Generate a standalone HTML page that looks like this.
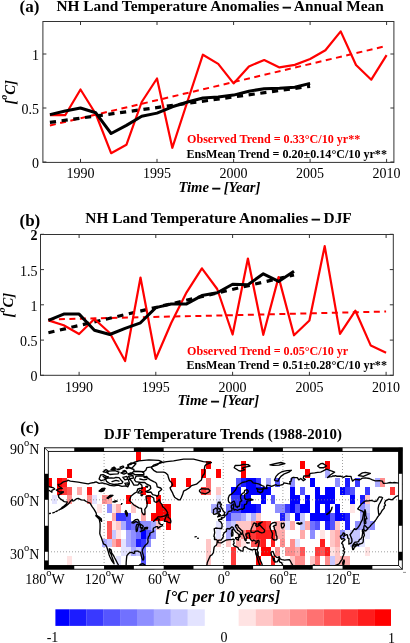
<!DOCTYPE html>
<html><head><meta charset="utf-8"><style>
html,body{margin:0;padding:0;background:#fff;width:410px;height:643px;overflow:hidden}
svg{display:block;font-family:"Liberation Serif", serif;will-change:transform}
</style></head><body>
<svg width="410" height="643" viewBox="0 0 410 643">
<rect width="410" height="643" fill="#fff"/>
<polyline points="49.9,125.5 386.6,45.9" fill="none" stroke="#ff0000" stroke-width="2" stroke-linecap="butt" stroke-linejoin="miter" stroke-dasharray="6,4.5"/>
<polyline points="49.9,122.4 310.1,86.3" fill="none" stroke="#000" stroke-width="3.2" stroke-linecap="butt" stroke-linejoin="miter" stroke-dasharray="6.2,5.6"/>
<polyline points="49.9,115.2 65.2,115.2 80.5,89.5 95.8,114.0 111.1,153.2 126.4,144.8 141.7,102.0 157.0,78.5 172.3,147.8 187.6,101.0 202.9,54.7 218.2,63.9 233.6,83.4 248.9,66.4 264.2,60.0 279.5,67.4 294.8,64.9 310.1,59.0 325.4,50.3 340.7,31.4 356.0,65.0 371.3,79.7 386.6,55.1" fill="none" stroke="#ff0000" stroke-width="2.2" stroke-linecap="butt" stroke-linejoin="round"/>
<polyline points="49.9,114.6 65.2,111.0 80.5,108.0 95.8,112.8 111.1,133.5 126.4,125.4 141.7,116.2 157.0,113.1 172.3,106.8 187.6,102.0 202.9,98.0 218.2,97.0 233.6,95.1 248.9,91.2 264.2,88.7 279.5,88.3 294.8,87.3 310.1,83.4" fill="none" stroke="#000" stroke-width="3" stroke-linecap="butt" stroke-linejoin="round"/>
<rect x="42.9" y="21.5" width="351.0" height="140.9" fill="none" stroke="#333" stroke-width="1"/>
<line x1="80.5" y1="162.4" x2="80.5" y2="158.9" stroke="#333" stroke-width="1"/>
<line x1="80.5" y1="21.5" x2="80.5" y2="25.0" stroke="#333" stroke-width="1"/>
<text x="80.5" y="177.5" font-size="14" font-weight="normal" font-style="normal" text-anchor="middle" fill="#000">1990</text>
<line x1="157.0" y1="162.4" x2="157.0" y2="158.9" stroke="#333" stroke-width="1"/>
<line x1="157.0" y1="21.5" x2="157.0" y2="25.0" stroke="#333" stroke-width="1"/>
<text x="157.0" y="177.5" font-size="14" font-weight="normal" font-style="normal" text-anchor="middle" fill="#000">1995</text>
<line x1="233.6" y1="162.4" x2="233.6" y2="158.9" stroke="#333" stroke-width="1"/>
<line x1="233.6" y1="21.5" x2="233.6" y2="25.0" stroke="#333" stroke-width="1"/>
<text x="233.6" y="177.5" font-size="14" font-weight="normal" font-style="normal" text-anchor="middle" fill="#000">2000</text>
<line x1="310.1" y1="162.4" x2="310.1" y2="158.9" stroke="#333" stroke-width="1"/>
<line x1="310.1" y1="21.5" x2="310.1" y2="25.0" stroke="#333" stroke-width="1"/>
<text x="310.1" y="177.5" font-size="14" font-weight="normal" font-style="normal" text-anchor="middle" fill="#000">2005</text>
<line x1="386.6" y1="162.4" x2="386.6" y2="158.9" stroke="#333" stroke-width="1"/>
<line x1="386.6" y1="21.5" x2="386.6" y2="25.0" stroke="#333" stroke-width="1"/>
<text x="386.6" y="177.5" font-size="14" font-weight="normal" font-style="normal" text-anchor="middle" fill="#000">2010</text>
<line x1="42.9" y1="162.0" x2="46.4" y2="162.0" stroke="#333" stroke-width="1"/>
<line x1="393.9" y1="162.0" x2="390.4" y2="162.0" stroke="#333" stroke-width="1"/>
<text x="39.1" y="168.0" font-size="14" font-weight="normal" font-style="normal" text-anchor="end" fill="#000">0</text>
<line x1="42.9" y1="108.0" x2="46.4" y2="108.0" stroke="#333" stroke-width="1"/>
<line x1="393.9" y1="108.0" x2="390.4" y2="108.0" stroke="#333" stroke-width="1"/>
<text x="39.1" y="114.0" font-size="14" font-weight="normal" font-style="normal" text-anchor="end" fill="#000">0.5</text>
<line x1="42.9" y1="54.0" x2="46.4" y2="54.0" stroke="#333" stroke-width="1"/>
<line x1="393.9" y1="54.0" x2="390.4" y2="54.0" stroke="#333" stroke-width="1"/>
<text x="39.1" y="60.0" font-size="14" font-weight="normal" font-style="normal" text-anchor="end" fill="#000">1</text>
<text x="56.4" y="10.8" font-size="15.37" font-weight="bold" font-style="normal" text-anchor="start" fill="#000">NH Land Temperature Anomalies <tspan stroke="#000" stroke-width="0.55">–</tspan> Annual Mean</text>
<text x="19.5" y="12" font-size="17" font-weight="bold" font-style="normal" text-anchor="start" fill="#000">(a)</text>
<text x="187" y="142.8" font-size="12.1" font-weight="bold" font-style="normal" text-anchor="start" fill="#ff0000">Observed Trend = 0.33°C/10 yr**</text>
<text x="186.5" y="157.5" font-size="12.1" font-weight="bold" font-style="normal" text-anchor="start" fill="#000">EnsMean Trend = 0.20±0.14°C/10 yr**</text>
<text x="219.5" y="192" font-size="14.7" font-weight="bold" font-style="italic" text-anchor="middle" fill="#000">Time <tspan stroke="#000" stroke-width="0.55">–</tspan> [Year]</text>
<text x="0" y="0" font-size="14.7" font-weight="bold" font-style="italic" text-anchor="middle" transform="translate(14.6,92.3) rotate(-90)">[<tspan font-size="10" dy="-7.5">o</tspan><tspan dy="7.5">C]</tspan></text>
<polyline points="48.4,319.5 386.1,311.5" fill="none" stroke="#ff0000" stroke-width="2" stroke-linecap="butt" stroke-linejoin="miter" stroke-dasharray="6,4.5"/>
<polyline points="48.4,332.7 294.0,274.9" fill="none" stroke="#000" stroke-width="3.2" stroke-linecap="butt" stroke-linejoin="miter" stroke-dasharray="6.2,5.6"/>
<polyline points="48.4,320.4 63.7,325.3 79.1,334.0 94.4,319.0 109.8,333.0 125.1,361.0 140.5,277.5 155.8,358.8 171.2,323.0 186.6,292.3 201.9,268.3 217.2,289.0 232.6,334.5 247.9,258.5 263.3,334.8 278.6,277.1 294.0,335.3 309.4,320.5 324.7,246.1 340.0,333.9 355.4,310.7 370.8,345.6 386.1,352.7" fill="none" stroke="#ff0000" stroke-width="2.2" stroke-linecap="butt" stroke-linejoin="round"/>
<polyline points="48.4,320.4 63.7,314.1 79.1,314.1 94.4,330.3 109.8,334.5 125.1,328.3 140.5,322.8 155.8,307.6 171.2,304.0 186.6,303.9 201.9,295.6 217.2,292.8 232.6,284.3 247.9,284.7 263.3,273.8 278.6,281.4 294.0,271.2" fill="none" stroke="#000" stroke-width="3" stroke-linecap="butt" stroke-linejoin="round"/>
<rect x="40.5" y="234.5" width="352.8" height="140.8" fill="none" stroke="#333" stroke-width="1"/>
<line x1="79.1" y1="375.3" x2="79.1" y2="371.8" stroke="#333" stroke-width="1"/>
<line x1="79.1" y1="234.5" x2="79.1" y2="238.0" stroke="#333" stroke-width="1"/>
<text x="79.1" y="391.5" font-size="14" font-weight="normal" font-style="normal" text-anchor="middle" fill="#000">1990</text>
<line x1="155.8" y1="375.3" x2="155.8" y2="371.8" stroke="#333" stroke-width="1"/>
<line x1="155.8" y1="234.5" x2="155.8" y2="238.0" stroke="#333" stroke-width="1"/>
<text x="155.8" y="391.5" font-size="14" font-weight="normal" font-style="normal" text-anchor="middle" fill="#000">1995</text>
<line x1="232.6" y1="375.3" x2="232.6" y2="371.8" stroke="#333" stroke-width="1"/>
<line x1="232.6" y1="234.5" x2="232.6" y2="238.0" stroke="#333" stroke-width="1"/>
<text x="232.6" y="391.5" font-size="14" font-weight="normal" font-style="normal" text-anchor="middle" fill="#000">2000</text>
<line x1="309.4" y1="375.3" x2="309.4" y2="371.8" stroke="#333" stroke-width="1"/>
<line x1="309.4" y1="234.5" x2="309.4" y2="238.0" stroke="#333" stroke-width="1"/>
<text x="309.4" y="391.5" font-size="14" font-weight="normal" font-style="normal" text-anchor="middle" fill="#000">2005</text>
<line x1="386.1" y1="375.3" x2="386.1" y2="371.8" stroke="#333" stroke-width="1"/>
<line x1="386.1" y1="234.5" x2="386.1" y2="238.0" stroke="#333" stroke-width="1"/>
<text x="386.1" y="391.5" font-size="14" font-weight="normal" font-style="normal" text-anchor="middle" fill="#000">2010</text>
<line x1="40.5" y1="375.3" x2="44.0" y2="375.3" stroke="#333" stroke-width="1"/>
<line x1="393.3" y1="375.3" x2="389.8" y2="375.3" stroke="#333" stroke-width="1"/>
<text x="37.5" y="381.3" font-size="14" font-weight="normal" font-style="normal" text-anchor="end" fill="#000">0</text>
<line x1="40.5" y1="340.1" x2="44.0" y2="340.1" stroke="#333" stroke-width="1"/>
<line x1="393.3" y1="340.1" x2="389.8" y2="340.1" stroke="#333" stroke-width="1"/>
<text x="37.5" y="346.1" font-size="14" font-weight="normal" font-style="normal" text-anchor="end" fill="#000">0.5</text>
<line x1="40.5" y1="304.8" x2="44.0" y2="304.8" stroke="#333" stroke-width="1"/>
<line x1="393.3" y1="304.8" x2="389.8" y2="304.8" stroke="#333" stroke-width="1"/>
<text x="37.5" y="310.8" font-size="14" font-weight="normal" font-style="normal" text-anchor="end" fill="#000">1</text>
<line x1="40.5" y1="269.6" x2="44.0" y2="269.6" stroke="#333" stroke-width="1"/>
<line x1="393.3" y1="269.6" x2="389.8" y2="269.6" stroke="#333" stroke-width="1"/>
<text x="37.5" y="275.6" font-size="14" font-weight="normal" font-style="normal" text-anchor="end" fill="#000">1.5</text>
<line x1="40.5" y1="234.3" x2="44.0" y2="234.3" stroke="#333" stroke-width="1"/>
<line x1="393.3" y1="234.3" x2="389.8" y2="234.3" stroke="#333" stroke-width="1"/>
<text x="37.5" y="240.3" font-size="14" font-weight="bold" font-style="normal" text-anchor="end" fill="#000">2</text>
<text x="85.3" y="223.1" font-size="15.37" font-weight="bold" font-style="normal" text-anchor="start" fill="#000">NH Land Temperature Anomalies <tspan stroke="#000" stroke-width="0.55">–</tspan> DJF</text>
<text x="19.5" y="226" font-size="17" font-weight="bold" font-style="normal" text-anchor="start" fill="#000">(b)</text>
<text x="187" y="354.8" font-size="12.1" font-weight="bold" font-style="normal" text-anchor="start" fill="#ff0000">Observed Trend = 0.05°C/10 yr</text>
<text x="186.5" y="369" font-size="12.1" font-weight="bold" font-style="normal" text-anchor="start" fill="#000">EnsMean Trend = 0.51±0.28°C/10 yr**</text>
<text x="218.3" y="405" font-size="14.7" font-weight="bold" font-style="italic" text-anchor="middle" fill="#000">Time <tspan stroke="#000" stroke-width="0.55">–</tspan> [Year]</text>
<text x="0" y="0" font-size="14.7" font-weight="bold" font-style="italic" text-anchor="middle" transform="translate(12.6,305.2) rotate(-90)">[<tspan font-size="10" dy="-7.5">o</tspan><tspan dy="7.5">C]</tspan></text>
<clipPath id="mc"><rect x="44.5" y="447.8" width="357.8" height="121.4"/></clipPath>
<g shape-rendering="crispEdges" clip-path="url(#mc)">
<rect x="136.35" y="443.47" width="4.97" height="8.66" fill="rgb(255,0,0)"/>
<rect x="136.35" y="452.13" width="4.97" height="8.66" fill="rgb(255,0,0)"/>
<rect x="66.79" y="469.46" width="4.97" height="8.66" fill="rgb(255,0,0)"/>
<rect x="46.92" y="478.12" width="4.97" height="8.66" fill="rgb(255,0,0)"/>
<rect x="56.86" y="478.12" width="4.97" height="8.66" fill="rgb(255,0,0)"/>
<rect x="61.82" y="478.12" width="4.97" height="8.66" fill="rgb(255,28,28)"/>
<rect x="56.86" y="486.79" width="4.97" height="8.66" fill="rgb(255,0,0)"/>
<rect x="61.82" y="486.79" width="4.97" height="8.66" fill="rgb(255,57,57)"/>
<rect x="66.79" y="486.79" width="4.97" height="8.66" fill="rgb(255,85,85)"/>
<rect x="76.73" y="486.79" width="4.97" height="8.66" fill="rgb(255,170,170)"/>
<rect x="86.67" y="486.79" width="4.97" height="8.66" fill="rgb(255,28,28)"/>
<rect x="141.32" y="486.79" width="4.97" height="8.66" fill="rgb(255,0,0)"/>
<rect x="51.89" y="495.45" width="4.97" height="8.66" fill="rgb(227,227,255)"/>
<rect x="66.79" y="495.45" width="4.97" height="8.66" fill="rgb(255,142,142)"/>
<rect x="86.67" y="495.45" width="4.97" height="8.66" fill="rgb(255,142,142)"/>
<rect x="91.63" y="495.45" width="4.97" height="8.66" fill="rgb(227,227,255)"/>
<rect x="101.57" y="495.45" width="4.97" height="8.66" fill="rgb(255,142,142)"/>
<rect x="106.54" y="495.45" width="4.97" height="8.66" fill="rgb(255,170,170)"/>
<rect x="126.41" y="495.45" width="4.97" height="8.66" fill="rgb(255,0,0)"/>
<rect x="146.29" y="495.45" width="4.97" height="8.66" fill="rgb(255,0,0)"/>
<rect x="156.23" y="495.45" width="4.97" height="8.66" fill="rgb(255,0,0)"/>
<rect x="96.60" y="504.11" width="4.97" height="8.66" fill="rgb(255,227,227)"/>
<rect x="106.54" y="504.11" width="4.97" height="8.66" fill="rgb(142,142,255)"/>
<rect x="111.51" y="504.11" width="4.97" height="8.66" fill="rgb(255,227,227)"/>
<rect x="116.48" y="504.11" width="4.97" height="8.66" fill="rgb(255,170,170)"/>
<rect x="131.38" y="504.11" width="4.97" height="8.66" fill="rgb(255,198,198)"/>
<rect x="156.23" y="504.11" width="4.97" height="8.66" fill="rgb(255,0,0)"/>
<rect x="111.51" y="512.78" width="4.97" height="8.66" fill="rgb(255,170,170)"/>
<rect x="116.48" y="512.78" width="4.97" height="8.66" fill="rgb(57,57,255)"/>
<rect x="121.45" y="512.78" width="4.97" height="8.66" fill="rgb(57,57,255)"/>
<rect x="126.41" y="512.78" width="4.97" height="8.66" fill="rgb(85,85,255)"/>
<rect x="141.32" y="512.78" width="4.97" height="8.66" fill="rgb(255,170,170)"/>
<rect x="151.26" y="512.78" width="4.97" height="8.66" fill="rgb(255,0,0)"/>
<rect x="156.23" y="512.78" width="4.97" height="8.66" fill="rgb(255,0,0)"/>
<rect x="106.54" y="521.44" width="4.97" height="8.66" fill="rgb(255,85,85)"/>
<rect x="111.51" y="521.44" width="4.97" height="8.66" fill="rgb(255,227,227)"/>
<rect x="116.48" y="521.44" width="4.97" height="8.66" fill="rgb(255,198,198)"/>
<rect x="121.45" y="521.44" width="4.97" height="8.66" fill="rgb(170,170,255)"/>
<rect x="126.41" y="521.44" width="4.97" height="8.66" fill="rgb(85,85,255)"/>
<rect x="131.38" y="521.44" width="4.97" height="8.66" fill="rgb(113,113,255)"/>
<rect x="136.35" y="521.44" width="4.97" height="8.66" fill="rgb(113,113,255)"/>
<rect x="141.32" y="521.44" width="4.97" height="8.66" fill="rgb(142,142,255)"/>
<rect x="146.29" y="521.44" width="4.97" height="8.66" fill="rgb(142,142,255)"/>
<rect x="156.23" y="521.44" width="4.97" height="8.66" fill="rgb(255,198,198)"/>
<rect x="106.54" y="530.10" width="4.97" height="8.66" fill="rgb(255,85,85)"/>
<rect x="111.51" y="530.10" width="4.97" height="8.66" fill="rgb(198,198,255)"/>
<rect x="116.48" y="530.10" width="4.97" height="8.66" fill="rgb(255,227,227)"/>
<rect x="126.41" y="530.10" width="4.97" height="8.66" fill="rgb(170,170,255)"/>
<rect x="131.38" y="530.10" width="4.97" height="8.66" fill="rgb(142,142,255)"/>
<rect x="136.35" y="530.10" width="4.97" height="8.66" fill="rgb(113,113,255)"/>
<rect x="141.32" y="530.10" width="4.97" height="8.66" fill="rgb(0,0,255)"/>
<rect x="146.29" y="530.10" width="4.97" height="8.66" fill="rgb(85,85,255)"/>
<rect x="151.26" y="530.10" width="4.97" height="8.66" fill="rgb(142,142,255)"/>
<rect x="101.57" y="538.77" width="4.97" height="8.66" fill="rgb(170,170,255)"/>
<rect x="106.54" y="538.77" width="4.97" height="8.66" fill="rgb(198,198,255)"/>
<rect x="111.51" y="538.77" width="4.97" height="8.66" fill="rgb(255,170,170)"/>
<rect x="116.48" y="538.77" width="4.97" height="8.66" fill="rgb(255,113,113)"/>
<rect x="121.45" y="538.77" width="4.97" height="8.66" fill="rgb(227,227,255)"/>
<rect x="126.41" y="538.77" width="4.97" height="8.66" fill="rgb(170,170,255)"/>
<rect x="131.38" y="538.77" width="4.97" height="8.66" fill="rgb(142,142,255)"/>
<rect x="136.35" y="538.77" width="4.97" height="8.66" fill="rgb(28,28,255)"/>
<rect x="141.32" y="538.77" width="4.97" height="8.66" fill="rgb(57,57,255)"/>
<rect x="146.29" y="538.77" width="4.97" height="8.66" fill="rgb(142,142,255)"/>
<rect x="121.45" y="547.43" width="4.97" height="8.66" fill="rgb(227,227,255)"/>
<rect x="126.41" y="547.43" width="4.97" height="8.66" fill="rgb(227,227,255)"/>
<rect x="131.38" y="547.43" width="4.97" height="8.66" fill="rgb(170,170,255)"/>
<rect x="141.32" y="547.43" width="4.97" height="8.66" fill="rgb(113,113,255)"/>
<rect x="66.79" y="556.09" width="4.97" height="8.66" fill="rgb(255,227,227)"/>
<rect x="116.48" y="556.09" width="4.97" height="8.66" fill="rgb(227,227,255)"/>
<rect x="141.32" y="556.09" width="4.97" height="8.66" fill="rgb(85,85,255)"/>
<rect x="205.91" y="460.80" width="4.97" height="8.66" fill="rgb(255,0,0)"/>
<rect x="200.94" y="469.46" width="4.97" height="8.66" fill="rgb(255,0,0)"/>
<rect x="171.13" y="478.12" width="4.97" height="8.66" fill="rgb(255,0,0)"/>
<rect x="186.04" y="478.12" width="4.97" height="8.66" fill="rgb(255,0,0)"/>
<rect x="205.91" y="478.12" width="4.97" height="8.66" fill="rgb(255,113,113)"/>
<rect x="200.94" y="486.79" width="4.97" height="8.66" fill="rgb(255,57,57)"/>
<rect x="205.91" y="486.79" width="4.97" height="8.66" fill="rgb(255,113,113)"/>
<rect x="161.19" y="504.11" width="4.97" height="8.66" fill="rgb(255,0,0)"/>
<rect x="166.16" y="504.11" width="4.97" height="8.66" fill="rgb(255,0,0)"/>
<rect x="210.88" y="504.11" width="4.97" height="8.66" fill="rgb(170,170,255)"/>
<rect x="161.19" y="512.78" width="4.97" height="8.66" fill="rgb(255,0,0)"/>
<rect x="166.16" y="512.78" width="4.97" height="8.66" fill="rgb(255,0,0)"/>
<rect x="166.16" y="521.44" width="4.97" height="8.66" fill="rgb(255,0,0)"/>
<rect x="151.26" y="521.44" width="4.97" height="8.66" fill="rgb(170,170,255)"/>
<rect x="205.91" y="538.77" width="4.97" height="8.66" fill="rgb(255,198,198)"/>
<rect x="205.91" y="547.43" width="4.97" height="8.66" fill="rgb(255,198,198)"/>
<rect x="205.91" y="556.09" width="4.97" height="8.66" fill="rgb(255,198,198)"/>
<rect x="240.69" y="460.80" width="4.97" height="8.66" fill="rgb(255,0,0)"/>
<rect x="215.85" y="469.46" width="4.97" height="8.66" fill="rgb(255,0,0)"/>
<rect x="240.69" y="469.46" width="4.97" height="8.66" fill="rgb(255,0,0)"/>
<rect x="235.72" y="478.12" width="4.97" height="8.66" fill="rgb(85,85,255)"/>
<rect x="240.69" y="478.12" width="4.97" height="8.66" fill="rgb(28,28,255)"/>
<rect x="245.66" y="478.12" width="4.97" height="8.66" fill="rgb(0,0,255)"/>
<rect x="250.63" y="478.12" width="4.97" height="8.66" fill="rgb(0,0,255)"/>
<rect x="255.60" y="478.12" width="4.97" height="8.66" fill="rgb(57,57,255)"/>
<rect x="265.53" y="478.12" width="4.97" height="8.66" fill="rgb(170,170,255)"/>
<rect x="275.47" y="478.12" width="4.97" height="8.66" fill="rgb(85,85,255)"/>
<rect x="215.85" y="486.79" width="4.97" height="8.66" fill="rgb(255,198,198)"/>
<rect x="230.75" y="486.79" width="4.97" height="8.66" fill="rgb(0,0,255)"/>
<rect x="235.72" y="486.79" width="4.97" height="8.66" fill="rgb(0,0,255)"/>
<rect x="245.66" y="486.79" width="4.97" height="8.66" fill="rgb(0,0,255)"/>
<rect x="250.63" y="486.79" width="4.97" height="8.66" fill="rgb(0,0,255)"/>
<rect x="255.60" y="486.79" width="4.97" height="8.66" fill="rgb(0,0,255)"/>
<rect x="260.56" y="486.79" width="4.97" height="8.66" fill="rgb(0,0,255)"/>
<rect x="265.53" y="486.79" width="4.97" height="8.66" fill="rgb(0,0,255)"/>
<rect x="215.85" y="495.45" width="4.97" height="8.66" fill="rgb(227,227,255)"/>
<rect x="230.75" y="495.45" width="4.97" height="8.66" fill="rgb(57,57,255)"/>
<rect x="235.72" y="495.45" width="4.97" height="8.66" fill="rgb(57,57,255)"/>
<rect x="240.69" y="495.45" width="4.97" height="8.66" fill="rgb(28,28,255)"/>
<rect x="245.66" y="495.45" width="4.97" height="8.66" fill="rgb(0,0,255)"/>
<rect x="260.56" y="495.45" width="4.97" height="8.66" fill="rgb(0,0,255)"/>
<rect x="270.50" y="495.45" width="4.97" height="8.66" fill="rgb(85,85,255)"/>
<rect x="240.69" y="504.11" width="4.97" height="8.66" fill="rgb(0,0,255)"/>
<rect x="245.66" y="504.11" width="4.97" height="8.66" fill="rgb(0,0,255)"/>
<rect x="250.63" y="504.11" width="4.97" height="8.66" fill="rgb(0,0,255)"/>
<rect x="255.60" y="504.11" width="4.97" height="8.66" fill="rgb(28,28,255)"/>
<rect x="215.85" y="504.11" width="4.97" height="8.66" fill="rgb(170,170,255)"/>
<rect x="225.78" y="504.11" width="4.97" height="8.66" fill="rgb(113,113,255)"/>
<rect x="230.75" y="504.11" width="4.97" height="8.66" fill="rgb(57,57,255)"/>
<rect x="235.72" y="504.11" width="4.97" height="8.66" fill="rgb(57,57,255)"/>
<rect x="275.47" y="504.11" width="4.97" height="8.66" fill="rgb(142,142,255)"/>
<rect x="280.44" y="504.11" width="4.97" height="8.66" fill="rgb(142,142,255)"/>
<rect x="285.41" y="504.11" width="4.97" height="8.66" fill="rgb(57,57,255)"/>
<rect x="225.78" y="512.78" width="4.97" height="8.66" fill="rgb(57,57,255)"/>
<rect x="230.75" y="512.78" width="4.97" height="8.66" fill="rgb(142,142,255)"/>
<rect x="235.72" y="512.78" width="4.97" height="8.66" fill="rgb(142,142,255)"/>
<rect x="240.69" y="512.78" width="4.97" height="8.66" fill="rgb(170,170,255)"/>
<rect x="245.66" y="512.78" width="4.97" height="8.66" fill="rgb(227,227,255)"/>
<rect x="250.63" y="512.78" width="4.97" height="8.66" fill="rgb(170,170,255)"/>
<rect x="255.60" y="512.78" width="4.97" height="8.66" fill="rgb(255,198,198)"/>
<rect x="280.44" y="512.78" width="4.97" height="8.66" fill="rgb(28,28,255)"/>
<rect x="285.41" y="512.78" width="4.97" height="8.66" fill="rgb(170,170,255)"/>
<rect x="215.85" y="521.44" width="4.97" height="8.66" fill="rgb(227,227,255)"/>
<rect x="225.78" y="521.44" width="4.97" height="8.66" fill="rgb(170,170,255)"/>
<rect x="230.75" y="521.44" width="4.97" height="8.66" fill="rgb(198,198,255)"/>
<rect x="235.72" y="521.44" width="4.97" height="8.66" fill="rgb(255,198,198)"/>
<rect x="240.69" y="521.44" width="4.97" height="8.66" fill="rgb(255,198,198)"/>
<rect x="245.66" y="521.44" width="4.97" height="8.66" fill="rgb(255,198,198)"/>
<rect x="250.63" y="521.44" width="4.97" height="8.66" fill="rgb(255,142,142)"/>
<rect x="255.60" y="521.44" width="4.97" height="8.66" fill="rgb(255,28,28)"/>
<rect x="260.56" y="521.44" width="4.97" height="8.66" fill="rgb(255,28,28)"/>
<rect x="265.53" y="521.44" width="4.97" height="8.66" fill="rgb(255,57,57)"/>
<rect x="275.47" y="521.44" width="4.97" height="8.66" fill="rgb(255,170,170)"/>
<rect x="280.44" y="521.44" width="4.97" height="8.66" fill="rgb(255,198,198)"/>
<rect x="285.41" y="521.44" width="4.97" height="8.66" fill="rgb(227,227,255)"/>
<rect x="215.85" y="530.10" width="4.97" height="8.66" fill="rgb(227,227,255)"/>
<rect x="225.78" y="530.10" width="4.97" height="8.66" fill="rgb(170,170,255)"/>
<rect x="235.72" y="530.10" width="4.97" height="8.66" fill="rgb(255,227,227)"/>
<rect x="240.69" y="530.10" width="4.97" height="8.66" fill="rgb(255,142,142)"/>
<rect x="245.66" y="530.10" width="4.97" height="8.66" fill="rgb(255,28,28)"/>
<rect x="250.63" y="530.10" width="4.97" height="8.66" fill="rgb(255,57,57)"/>
<rect x="255.60" y="530.10" width="4.97" height="8.66" fill="rgb(255,28,28)"/>
<rect x="260.56" y="530.10" width="4.97" height="8.66" fill="rgb(255,28,28)"/>
<rect x="265.53" y="530.10" width="4.97" height="8.66" fill="rgb(255,28,28)"/>
<rect x="270.50" y="530.10" width="4.97" height="8.66" fill="rgb(255,28,28)"/>
<rect x="275.47" y="530.10" width="4.97" height="8.66" fill="rgb(255,170,170)"/>
<rect x="280.44" y="530.10" width="4.97" height="8.66" fill="rgb(255,170,170)"/>
<rect x="215.85" y="538.77" width="4.97" height="8.66" fill="rgb(255,198,198)"/>
<rect x="225.78" y="538.77" width="4.97" height="8.66" fill="rgb(255,198,198)"/>
<rect x="235.72" y="538.77" width="4.97" height="8.66" fill="rgb(255,170,170)"/>
<rect x="240.69" y="538.77" width="4.97" height="8.66" fill="rgb(255,227,227)"/>
<rect x="250.63" y="538.77" width="4.97" height="8.66" fill="rgb(255,85,85)"/>
<rect x="255.60" y="538.77" width="4.97" height="8.66" fill="rgb(255,57,57)"/>
<rect x="260.56" y="538.77" width="4.97" height="8.66" fill="rgb(255,28,28)"/>
<rect x="270.50" y="538.77" width="4.97" height="8.66" fill="rgb(255,28,28)"/>
<rect x="280.44" y="538.77" width="4.97" height="8.66" fill="rgb(255,142,142)"/>
<rect x="230.75" y="547.43" width="4.97" height="8.66" fill="rgb(255,57,57)"/>
<rect x="260.56" y="547.43" width="4.97" height="8.66" fill="rgb(255,0,0)"/>
<rect x="265.53" y="547.43" width="4.97" height="8.66" fill="rgb(255,0,0)"/>
<rect x="275.47" y="547.43" width="4.97" height="8.66" fill="rgb(255,142,142)"/>
<rect x="285.41" y="547.43" width="4.97" height="8.66" fill="rgb(255,142,142)"/>
<rect x="230.75" y="556.09" width="4.97" height="8.66" fill="rgb(255,57,57)"/>
<rect x="255.60" y="556.09" width="4.97" height="8.66" fill="rgb(255,0,0)"/>
<rect x="270.50" y="556.09" width="4.97" height="8.66" fill="rgb(255,28,28)"/>
<rect x="300.31" y="460.80" width="4.97" height="8.66" fill="rgb(255,0,0)"/>
<rect x="305.28" y="469.46" width="4.97" height="8.66" fill="rgb(255,0,0)"/>
<rect x="325.15" y="469.46" width="4.97" height="8.66" fill="rgb(170,170,255)"/>
<rect x="290.37" y="478.12" width="4.97" height="8.66" fill="rgb(142,142,255)"/>
<rect x="310.25" y="478.12" width="4.97" height="8.66" fill="rgb(0,0,255)"/>
<rect x="290.37" y="486.79" width="4.97" height="8.66" fill="rgb(0,0,255)"/>
<rect x="300.31" y="486.79" width="4.97" height="8.66" fill="rgb(85,85,255)"/>
<rect x="315.22" y="486.79" width="4.97" height="8.66" fill="rgb(0,0,255)"/>
<rect x="325.15" y="486.79" width="4.97" height="8.66" fill="rgb(0,0,255)"/>
<rect x="290.37" y="495.45" width="4.97" height="8.66" fill="rgb(0,0,255)"/>
<rect x="295.34" y="495.45" width="4.97" height="8.66" fill="rgb(0,0,255)"/>
<rect x="305.28" y="495.45" width="4.97" height="8.66" fill="rgb(0,0,255)"/>
<rect x="315.22" y="495.45" width="4.97" height="8.66" fill="rgb(0,0,255)"/>
<rect x="320.19" y="495.45" width="4.97" height="8.66" fill="rgb(0,0,255)"/>
<rect x="325.15" y="495.45" width="4.97" height="8.66" fill="rgb(0,0,255)"/>
<rect x="290.37" y="504.11" width="4.97" height="8.66" fill="rgb(0,0,255)"/>
<rect x="295.34" y="504.11" width="4.97" height="8.66" fill="rgb(85,85,255)"/>
<rect x="300.31" y="504.11" width="4.97" height="8.66" fill="rgb(0,0,255)"/>
<rect x="305.28" y="504.11" width="4.97" height="8.66" fill="rgb(0,0,255)"/>
<rect x="315.22" y="504.11" width="4.97" height="8.66" fill="rgb(0,0,255)"/>
<rect x="325.15" y="504.11" width="4.97" height="8.66" fill="rgb(0,0,255)"/>
<rect x="295.34" y="512.78" width="4.97" height="8.66" fill="rgb(0,0,255)"/>
<rect x="300.31" y="512.78" width="4.97" height="8.66" fill="rgb(198,198,255)"/>
<rect x="310.25" y="512.78" width="4.97" height="8.66" fill="rgb(0,0,255)"/>
<rect x="315.22" y="512.78" width="4.97" height="8.66" fill="rgb(0,0,255)"/>
<rect x="320.19" y="512.78" width="4.97" height="8.66" fill="rgb(0,0,255)"/>
<rect x="325.15" y="512.78" width="4.97" height="8.66" fill="rgb(0,0,255)"/>
<rect x="290.37" y="521.44" width="4.97" height="8.66" fill="rgb(255,170,170)"/>
<rect x="305.28" y="521.44" width="4.97" height="8.66" fill="rgb(255,170,170)"/>
<rect x="310.25" y="521.44" width="4.97" height="8.66" fill="rgb(113,113,255)"/>
<rect x="315.22" y="521.44" width="4.97" height="8.66" fill="rgb(85,85,255)"/>
<rect x="300.31" y="521.44" width="4.97" height="8.66" fill="rgb(198,198,255)"/>
<rect x="325.15" y="521.44" width="4.97" height="8.66" fill="rgb(28,28,255)"/>
<rect x="300.31" y="530.10" width="4.97" height="8.66" fill="rgb(255,170,170)"/>
<rect x="310.25" y="530.10" width="4.97" height="8.66" fill="rgb(142,142,255)"/>
<rect x="320.19" y="530.10" width="4.97" height="8.66" fill="rgb(255,227,227)"/>
<rect x="290.37" y="538.77" width="4.97" height="8.66" fill="rgb(255,142,142)"/>
<rect x="295.34" y="538.77" width="4.97" height="8.66" fill="rgb(227,227,255)"/>
<rect x="320.19" y="538.77" width="4.97" height="8.66" fill="rgb(255,28,28)"/>
<rect x="290.37" y="547.43" width="4.97" height="8.66" fill="rgb(255,142,142)"/>
<rect x="295.34" y="547.43" width="4.97" height="8.66" fill="rgb(255,170,170)"/>
<rect x="300.31" y="547.43" width="4.97" height="8.66" fill="rgb(255,85,85)"/>
<rect x="315.22" y="547.43" width="4.97" height="8.66" fill="rgb(255,57,57)"/>
<rect x="320.19" y="547.43" width="4.97" height="8.66" fill="rgb(255,85,85)"/>
<rect x="325.15" y="547.43" width="4.97" height="8.66" fill="rgb(255,28,28)"/>
<rect x="290.37" y="556.09" width="4.97" height="8.66" fill="rgb(255,198,198)"/>
<rect x="295.34" y="556.09" width="4.97" height="8.66" fill="rgb(255,142,142)"/>
<rect x="300.31" y="556.09" width="4.97" height="8.66" fill="rgb(255,142,142)"/>
<rect x="310.25" y="556.09" width="4.97" height="8.66" fill="rgb(255,198,198)"/>
<rect x="315.22" y="556.09" width="4.97" height="8.66" fill="rgb(255,113,113)"/>
<rect x="325.15" y="556.09" width="4.97" height="8.66" fill="rgb(255,142,142)"/>
<rect x="325.15" y="460.80" width="4.97" height="8.66" fill="rgb(255,0,0)"/>
<rect x="335.09" y="478.12" width="4.97" height="8.66" fill="rgb(142,142,255)"/>
<rect x="345.03" y="478.12" width="4.97" height="8.66" fill="rgb(28,28,255)"/>
<rect x="354.97" y="478.12" width="4.97" height="8.66" fill="rgb(57,57,255)"/>
<rect x="330.12" y="486.79" width="4.97" height="8.66" fill="rgb(0,0,255)"/>
<rect x="340.06" y="486.79" width="4.97" height="8.66" fill="rgb(0,0,255)"/>
<rect x="345.03" y="486.79" width="4.97" height="8.66" fill="rgb(57,57,255)"/>
<rect x="350.00" y="486.79" width="4.97" height="8.66" fill="rgb(85,85,255)"/>
<rect x="330.12" y="495.45" width="4.97" height="8.66" fill="rgb(0,0,255)"/>
<rect x="350.00" y="495.45" width="4.97" height="8.66" fill="rgb(0,0,255)"/>
<rect x="359.93" y="495.45" width="4.97" height="8.66" fill="rgb(28,28,255)"/>
<rect x="335.09" y="504.11" width="4.97" height="8.66" fill="rgb(0,0,255)"/>
<rect x="350.00" y="504.11" width="4.97" height="8.66" fill="rgb(255,227,227)"/>
<rect x="359.93" y="504.11" width="4.97" height="8.66" fill="rgb(142,142,255)"/>
<rect x="330.12" y="512.78" width="4.97" height="8.66" fill="rgb(85,85,255)"/>
<rect x="335.09" y="512.78" width="4.97" height="8.66" fill="rgb(0,0,255)"/>
<rect x="340.06" y="512.78" width="4.97" height="8.66" fill="rgb(0,0,255)"/>
<rect x="345.03" y="512.78" width="4.97" height="8.66" fill="rgb(28,28,255)"/>
<rect x="330.12" y="521.44" width="4.97" height="8.66" fill="rgb(85,85,255)"/>
<rect x="335.09" y="521.44" width="4.97" height="8.66" fill="rgb(255,198,198)"/>
<rect x="345.03" y="521.44" width="4.97" height="8.66" fill="rgb(28,28,255)"/>
<rect x="354.97" y="521.44" width="4.97" height="8.66" fill="rgb(142,142,255)"/>
<rect x="330.12" y="530.10" width="4.97" height="8.66" fill="rgb(255,198,198)"/>
<rect x="335.09" y="530.10" width="4.97" height="8.66" fill="rgb(255,170,170)"/>
<rect x="340.06" y="530.10" width="4.97" height="8.66" fill="rgb(142,142,255)"/>
<rect x="345.03" y="530.10" width="4.97" height="8.66" fill="rgb(227,227,255)"/>
<rect x="350.00" y="530.10" width="4.97" height="8.66" fill="rgb(198,198,255)"/>
<rect x="354.97" y="530.10" width="4.97" height="8.66" fill="rgb(198,198,255)"/>
<rect x="330.12" y="538.77" width="4.97" height="8.66" fill="rgb(255,198,198)"/>
<rect x="335.09" y="538.77" width="4.97" height="8.66" fill="rgb(255,170,170)"/>
<rect x="350.00" y="538.77" width="4.97" height="8.66" fill="rgb(198,198,255)"/>
<rect x="354.97" y="538.77" width="4.97" height="8.66" fill="rgb(198,198,255)"/>
<rect x="330.12" y="547.43" width="4.97" height="8.66" fill="rgb(255,227,227)"/>
<rect x="335.09" y="547.43" width="4.97" height="8.66" fill="rgb(255,198,198)"/>
<rect x="330.12" y="556.09" width="4.97" height="8.66" fill="rgb(198,198,255)"/>
<rect x="335.09" y="556.09" width="4.97" height="8.66" fill="rgb(255,198,198)"/>
<rect x="340.06" y="556.09" width="4.97" height="8.66" fill="rgb(255,170,170)"/>
<rect x="345.03" y="556.09" width="4.97" height="8.66" fill="rgb(255,170,170)"/>
<rect x="374.84" y="478.12" width="4.97" height="8.66" fill="rgb(170,170,255)"/>
<rect x="379.81" y="478.12" width="4.97" height="8.66" fill="rgb(255,142,142)"/>
<rect x="364.90" y="486.79" width="4.97" height="8.66" fill="rgb(57,57,255)"/>
<rect x="389.74" y="486.79" width="4.97" height="8.66" fill="rgb(255,57,57)"/>
<rect x="364.90" y="495.45" width="4.97" height="8.66" fill="rgb(255,198,198)"/>
<rect x="364.90" y="504.11" width="4.97" height="8.66" fill="rgb(198,198,255)"/>
<rect x="359.93" y="512.78" width="4.97" height="8.66" fill="rgb(170,170,255)"/>
<rect x="364.90" y="512.78" width="4.97" height="8.66" fill="rgb(170,170,255)"/>
<rect x="359.93" y="521.44" width="4.97" height="8.66" fill="rgb(170,170,255)"/>
<rect x="364.90" y="521.44" width="4.97" height="8.66" fill="rgb(170,170,255)"/>
<rect x="369.87" y="521.44" width="4.97" height="8.66" fill="rgb(142,142,255)"/>
<rect x="364.90" y="530.10" width="4.97" height="8.66" fill="rgb(227,227,255)"/>
<rect x="359.93" y="538.77" width="4.97" height="8.66" fill="rgb(227,227,255)"/>
<rect x="364.90" y="547.43" width="4.97" height="8.66" fill="rgb(255,227,227)"/>
<rect x="136.35" y="547.43" width="4.97" height="8.66" fill="rgb(198,198,255)"/>
</g>
<line x1="104.1" y1="451" x2="104.1" y2="566" stroke="#888" stroke-width="0.8" stroke-dasharray="1,2"/>
<line x1="163.7" y1="451" x2="163.7" y2="566" stroke="#888" stroke-width="0.8" stroke-dasharray="1,2"/>
<line x1="223.3" y1="451" x2="223.3" y2="566" stroke="#888" stroke-width="0.8" stroke-dasharray="1,2"/>
<line x1="282.9" y1="451" x2="282.9" y2="566" stroke="#888" stroke-width="0.8" stroke-dasharray="1,2"/>
<line x1="342.5" y1="451" x2="342.5" y2="566" stroke="#888" stroke-width="0.8" stroke-dasharray="1,2"/>
<line x1="48" y1="551.8" x2="399" y2="551.8" stroke="#888" stroke-width="0.8" stroke-dasharray="1,2"/>
<line x1="48" y1="499.8" x2="399" y2="499.8" stroke="#888" stroke-width="0.8" stroke-dasharray="1,2"/>
<g clip-path="url(#mc)">
<polyline points="118.5,568.2 118.3,564.8 117.6,563.5 116.0,560.4 114.6,557.8 113.4,555.4 111.8,553.0 111.0,549.7 109.3,548.8 109.8,551.8 111.2,554.4 112.0,557.0 113.5,561.3 114.1,563.9 113.5,563.0 111.9,560.9 110.0,557.0 109.0,554.4 108.3,551.8 107.2,548.3 106.8,547.1 105.6,544.8 103.5,543.8 102.2,540.3 101.6,538.2 100.3,535.3 99.8,533.6 99.9,531.0 100.1,527.5 100.1,523.5 99.4,519.9 101.1,520.1 101.6,521.4 101.3,518.8 99.1,517.1 96.6,515.4 96.1,512.8 94.1,509.3 92.1,506.7 90.1,503.2 88.2,502.4 86.2,501.5 84.2,500.1 81.2,499.8 78.2,498.4 76.2,498.9 74.2,500.6 72.8,501.0 72.3,499.4 70.3,501.5 68.3,504.1 66.3,505.8 64.3,507.1 62.3,508.4 60.8,509.0 62.3,507.2 64.3,505.8 66.3,504.1 67.3,502.0 65.8,501.9 64.3,501.7 62.3,500.1 60.3,498.9 58.8,497.2 58.3,495.4 59.8,494.2 63.3,492.3 63.3,491.6 61.3,492.0 59.3,492.0 57.8,490.8 56.4,490.1 58.3,489.0 60.3,488.5 62.3,488.5 60.5,487.3 58.8,485.9 58.1,484.4 60.3,484.2 63.3,481.9 67.3,480.9 67.8,480.2 70.3,481.1 74.2,481.6 78.2,482.1 82.2,482.8 85.2,483.3 88.2,483.8 90.6,483.1 94.1,482.5 96.1,481.9 99.1,483.3 102.1,482.8 107.0,484.2 110.0,485.4 114.0,485.9 118.0,485.1 121.9,486.4 125.9,485.9 127.9,486.8 129.4,483.3 128.4,479.9 129.9,479.0 131.9,481.6 133.9,485.1 137.8,485.1 139.3,483.3 141.8,485.1 142.3,488.5 139.8,488.5 137.8,489.0 136.8,492.0 133.9,493.7 130.9,496.3 129.4,500.6 130.9,501.9 133.9,505.0 136.8,506.7 138.8,507.9 141.5,508.4 141.8,511.9 143.3,514.5 144.8,514.5 145.0,511.9 144.8,509.3 146.8,506.7 147.3,503.2 146.3,499.8 146.0,496.3 148.8,495.8 151.8,496.7 153.7,498.0 154.2,501.5 156.2,502.4 158.7,500.6 159.2,499.3 160.2,502.4 161.7,504.1 162.7,506.7 164.7,508.4 166.2,510.2 167.7,512.8 166.7,514.5 164.2,516.2 160.7,516.8 158.2,516.8 156.7,518.3 155.2,519.7 153.7,521.4 154.7,520.2 157.7,518.7 159.2,519.2 158.7,521.1 159.2,523.5 160.7,524.4 162.7,524.7 162.2,525.8 160.2,526.6 157.9,528.4 157.7,526.6 156.2,526.6 154.7,527.5 153.5,528.0 153.1,529.9 153.7,531.5 152.3,532.0 150.3,533.0 149.8,533.6 149.7,535.1 148.8,536.3 148.3,537.4 147.8,539.6 148.1,541.4 147.8,542.8 146.8,544.0 145.3,545.2 144.3,546.6 143.3,548.0 142.5,549.5 142.3,551.8 142.8,553.5 143.3,555.2 143.8,557.5 143.5,559.9 142.8,560.1 142.0,558.3 141.3,556.1 141.0,554.4 140.3,552.1 139.3,551.8 137.8,551.1 135.9,551.1 134.4,551.4 134.6,553.1 133.4,553.3 131.9,552.5 129.9,552.5 128.4,553.8 126.9,555.6 126.5,558.7 126.2,562.2 126.1,565.6 126.6,567.4 127.4,570.0" fill="none" stroke="#000" stroke-width="1.35" stroke-linejoin="round" stroke-linecap="round"/>
<polyline points="132.9,570.8 133.4,568.2 133.6,567.2 135.9,566.5 136.8,566.5 137.0,568.2 136.4,570.8" fill="none" stroke="#000" stroke-width="1.35" stroke-linejoin="round" stroke-linecap="round"/>
<polyline points="138.8,565.8 140.8,564.1 142.8,563.7 144.8,564.9 146.8,567.0 148.8,567.9 149.6,568.7 148.3,569.3 146.3,569.3 145.8,567.9 143.8,566.1 141.8,565.3 139.8,566.0 138.8,565.8" fill="none" stroke="#000" stroke-width="1.35" stroke-linejoin="round" stroke-linecap="round"/>
<polyline points="149.4,569.3 151.0,569.3 153.7,569.6 155.3,571.5 153.7,572.2 151.8,572.4 149.4,571.9 151.0,571.2 149.4,569.3" fill="none" stroke="#000" stroke-width="1.35" stroke-linejoin="round" stroke-linecap="round"/>
<polyline points="164.3,521.3 166.7,521.3 168.1,522.3 170.6,522.8 170.9,521.3 170.1,518.5 168.1,517.5 168.1,514.3 166.7,515.0 165.2,518.8 164.3,521.3" fill="none" stroke="#000" stroke-width="1.35" stroke-linejoin="round" stroke-linecap="round"/>
<polyline points="100.8,519.9 99.3,519.2 97.6,517.5 95.8,515.7 97.1,516.1 99.1,517.3 100.8,519.9" fill="none" stroke="#000" stroke-width="1.35" stroke-linejoin="round" stroke-linecap="round"/>
<polyline points="99.1,479.0 100.6,475.0 103.1,474.7 106.5,476.4 108.5,476.9 104.1,479.9 101.1,480.7 99.1,479.0" fill="none" stroke="#000" stroke-width="1.35" stroke-linejoin="round" stroke-linecap="round"/>
<polyline points="106.0,479.9 106.5,481.4 110.0,483.7 114.0,484.5 118.0,484.0 121.9,483.3 122.9,481.9 120.9,479.9 119.0,477.6 116.0,477.3 114.0,478.1 111.0,477.9 107.0,478.1 105.0,479.3 106.0,479.9" fill="none" stroke="#000" stroke-width="1.35" stroke-linejoin="round" stroke-linecap="round"/>
<polyline points="143.8,476.0 147.8,478.1 150.3,479.9 153.7,481.6 155.7,482.5 156.7,484.2 157.2,486.8 160.7,488.0 161.7,489.4 158.7,492.0 158.7,494.6 157.2,496.3 155.7,495.4 152.7,494.6 150.8,492.0 147.3,492.3 145.8,491.5 148.8,490.3 150.8,488.5 150.3,485.9 146.8,484.2 144.8,482.5 140.8,482.5 135.9,481.6 134.4,479.9 135.9,476.4 138.8,475.9 143.8,476.0" fill="none" stroke="#000" stroke-width="1.35" stroke-linejoin="round" stroke-linecap="round"/>
<polyline points="137.8,492.9 139.8,490.3 142.3,492.0 140.3,493.2 137.8,492.9" fill="none" stroke="#000" stroke-width="1.35" stroke-linejoin="round" stroke-linecap="round"/>
<polyline points="133.9,471.2 143.8,471.7 145.8,470.3 146.8,467.7 151.8,466.9 153.7,465.1 158.7,463.4 161.7,461.7 158.7,460.3 148.8,459.9 138.8,460.8 133.9,462.5 130.9,464.3 127.9,465.1 128.9,467.7 133.9,469.5 133.9,471.2" fill="none" stroke="#000" stroke-width="1.35" stroke-linejoin="round" stroke-linecap="round"/>
<polyline points="143.8,474.7 134.9,474.7 131.9,472.9 133.9,471.5 141.8,471.7 143.8,472.8 143.8,474.7" fill="none" stroke="#000" stroke-width="1.35" stroke-linejoin="round" stroke-linecap="round"/>
<polyline points="127.9,464.8 130.9,463.0 135.9,463.7 133.9,466.0 131.9,468.1 128.9,467.7 127.9,464.8" fill="none" stroke="#000" stroke-width="1.35" stroke-linejoin="round" stroke-linecap="round"/>
<polyline points="107.0,472.9 109.0,471.2 115.0,470.7 119.0,472.1 118.0,473.8 114.0,474.1 110.0,474.5 107.0,472.9" fill="none" stroke="#000" stroke-width="1.35" stroke-linejoin="round" stroke-linecap="round"/>
<polyline points="103.1,471.7 106.0,469.5 108.0,470.8 106.0,472.4 103.1,471.7" fill="none" stroke="#000" stroke-width="1.35" stroke-linejoin="round" stroke-linecap="round"/>
<polyline points="120.9,472.9 125.9,471.2 126.9,472.9 123.9,474.1 120.9,472.9" fill="none" stroke="#000" stroke-width="1.35" stroke-linejoin="round" stroke-linecap="round"/>
<polyline points="127.9,473.8 130.9,472.8 131.9,474.1 128.9,474.8 127.9,473.8" fill="none" stroke="#000" stroke-width="1.35" stroke-linejoin="round" stroke-linecap="round"/>
<polyline points="122.9,477.3 126.9,476.4 127.9,479.0 124.9,479.9 122.9,477.3" fill="none" stroke="#000" stroke-width="1.35" stroke-linejoin="round" stroke-linecap="round"/>
<polyline points="128.4,476.4 132.9,475.5 133.4,478.1 129.9,478.6 128.4,476.4" fill="none" stroke="#000" stroke-width="1.35" stroke-linejoin="round" stroke-linecap="round"/>
<polyline points="124.9,483.3 127.9,482.8 128.9,484.5 125.9,485.2 124.9,483.3" fill="none" stroke="#000" stroke-width="1.35" stroke-linejoin="round" stroke-linecap="round"/>
<polyline points="151.3,467.7 153.7,470.3 156.7,472.1 163.7,472.1 165.7,472.9 167.7,474.7 168.6,478.1 169.6,480.7 171.6,482.5 172.6,485.1 170.1,487.7 170.6,489.4 171.6,491.1 172.6,492.9 173.6,495.4 174.6,497.2 175.6,498.0 178.6,499.8 180.1,499.8 181.1,498.0 182.6,494.6 183.6,491.1 186.0,489.9 189.5,487.7 191.5,485.6 196.5,484.2 199.5,481.6 201.4,479.9 201.9,478.1 202.9,475.5 204.4,473.8 204.9,471.2 204.4,468.6 204.9,466.0 206.4,464.3 211.4,462.5 203.4,461.7 193.5,459.1 183.6,459.1 173.6,460.8 166.7,461.7 161.7,462.5 158.7,463.7 156.7,465.1 151.8,466.9 151.3,467.7" fill="none" stroke="#000" stroke-width="1.35" stroke-linejoin="round" stroke-linecap="round"/>
<polyline points="199.5,490.3 201.4,488.7 205.4,489.0 208.4,489.0 209.9,490.8 208.9,492.2 205.4,493.9 202.4,493.2 200.9,492.9 199.5,491.3 199.5,490.3" fill="none" stroke="#000" stroke-width="1.35" stroke-linejoin="round" stroke-linecap="round"/>
<polyline points="217.7,541.4 218.8,540.2 221.3,540.0 222.8,537.6 223.5,536.5 223.0,535.3 224.2,532.7 226.5,531.1 226.4,529.2 227.8,528.5 229.3,529.1 230.8,527.9 232.0,526.8 233.4,527.7 233.7,529.2 234.7,530.4 235.8,532.0 237.2,533.0 238.8,534.4 238.9,537.6 239.3,536.3 239.8,537.0 240.3,536.2 239.7,535.0 240.4,533.6 241.7,534.3 241.2,533.2 239.2,531.1 237.7,530.4 236.8,528.4 235.5,526.6 235.6,525.1 236.8,524.6 236.8,525.6 237.7,525.3 238.4,527.2 239.7,528.4 241.2,529.9 242.6,531.1 242.7,533.6 243.2,535.1 243.9,536.5 244.3,537.4 244.9,540.0 245.7,540.7 246.2,540.5 246.1,538.8 246.4,537.9 247.1,537.6 246.0,535.6 245.8,533.9 246.9,534.1 247.1,533.2 249.1,533.0 249.4,534.3 249.3,535.5 249.9,536.3 249.4,537.4 250.4,539.3 251.3,540.2 252.6,541.0 253.7,540.0 255.6,541.2 257.1,540.8 258.6,540.3 259.1,541.4 258.9,544.0 258.6,545.5 258.1,546.9 257.6,549.0 257.3,549.5 255.4,549.7 254.1,549.2 252.6,550.0 250.6,549.5 248.1,548.6 246.2,547.3 244.7,546.7 243.2,548.0 243.2,550.0 242.7,551.2 241.2,550.9 238.7,549.2 238.2,547.8 236.2,546.7 234.2,546.0 233.2,544.5 234.2,543.1 233.7,541.4 234.2,539.6 233.2,539.1 231.7,539.6 229.3,539.6 226.3,540.0 223.3,541.7 221.3,542.9 218.3,542.6 217.4,541.7" fill="none" stroke="#000" stroke-width="1.35" stroke-linejoin="round" stroke-linecap="round"/>
<polyline points="251.1,532.2 252.1,532.4 254.1,532.5 256.1,531.1 258.1,531.0 259.6,532.2 261.6,532.9 263.0,532.7 264.5,531.8 264.6,530.1 263.0,528.4 261.1,526.6 260.4,525.4 259.7,525.1 258.3,525.8 256.6,526.6 255.6,525.1 256.6,524.0 254.1,523.0 253.1,524.4 252.7,525.8 251.8,527.5 251.1,529.2 250.9,531.0 251.1,532.2" fill="none" stroke="#000" stroke-width="1.35" stroke-linejoin="round" stroke-linecap="round"/>
<polyline points="258.1,525.1 258.6,524.9 260.1,523.9 261.6,522.3 262.3,522.0 260.6,522.7 259.4,523.2 258.4,523.7 258.1,525.1" fill="none" stroke="#000" stroke-width="1.35" stroke-linejoin="round" stroke-linecap="round"/>
<polyline points="270.0,526.1 269.7,526.6 270.5,529.2 271.5,531.3 272.5,533.6 272.2,536.2 271.9,537.2 272.5,538.8 274.0,540.0 276.5,539.8 277.0,539.1 276.9,536.3 276.2,535.6 276.0,533.6 275.8,532.4 275.5,531.0 274.3,528.9 274.2,526.6 273.3,526.5 274.3,525.4 276.0,525.3 276.2,522.8 274.5,522.3 272.5,523.0 271.0,524.0 270.3,525.4 270.0,526.1" fill="none" stroke="#000" stroke-width="1.35" stroke-linejoin="round" stroke-linecap="round"/>
<polyline points="281.2,523.2 282.4,523.7 283.9,523.2 284.4,525.4 283.4,527.5 281.9,528.0 281.4,526.6 281.2,523.2" fill="none" stroke="#000" stroke-width="1.35" stroke-linejoin="round" stroke-linecap="round"/>
<polyline points="255.4,549.7 255.6,551.9 255.8,553.0 256.6,556.1 257.6,558.7 258.6,562.2 259.9,565.6 260.4,569.1" fill="none" stroke="#000" stroke-width="1.35" stroke-linejoin="round" stroke-linecap="round"/>
<polyline points="257.3,549.5 257.4,550.9 258.0,552.6 258.1,555.2 259.6,558.7 261.6,563.0 262.6,566.5 263.5,569.1" fill="none" stroke="#000" stroke-width="1.35" stroke-linejoin="round" stroke-linecap="round"/>
<polyline points="255.6,551.9 256.3,554.4 257.3,555.6 257.7,554.4 258.0,552.6" fill="none" stroke="#000" stroke-width="1.35" stroke-linejoin="round" stroke-linecap="round"/>
<polyline points="281.7,568.2 282.7,564.8 281.4,562.7 279.9,562.2 279.2,560.6 279.3,558.2 278.5,559.6 277.5,561.6 275.0,562.2 274.5,559.9 274.3,558.5 273.8,560.8 273.2,559.2 273.0,557.5 271.5,555.2 271.0,552.6 271.5,551.8 273.0,551.4 273.8,553.5 274.5,555.4 276.5,557.3 278.0,557.5 279.2,556.6 280.2,559.0 281.9,559.7 284.4,560.1 286.9,559.9 289.4,559.7 290.2,560.8 291.4,563.0 292.4,564.8 293.2,567.4 295.3,566.5 295.6,569.1 295.7,570.0" fill="none" stroke="#000" stroke-width="1.35" stroke-linejoin="round" stroke-linecap="round"/>
<polyline points="309.3,569.4 309.8,566.5 311.2,566.1 312.7,565.6 314.2,564.8 314.7,567.4 315.0,568.2 315.7,570.0" fill="none" stroke="#000" stroke-width="1.35" stroke-linejoin="round" stroke-linecap="round"/>
<polyline points="328.4,570.8 329.1,568.6 330.6,566.3 332.1,566.5 333.1,568.6 333.6,566.5 335.6,565.3 336.9,564.8 339.1,563.9 340.6,561.3 342.0,559.6 342.5,557.3 343.5,555.2 344.5,552.1 343.5,550.7 344.5,549.2 343.5,547.4 342.8,544.3 341.7,543.4 342.8,541.4 345.0,539.8 343.5,538.4 341.6,539.3 340.6,537.4 340.3,536.2 341.6,535.6 343.5,532.9 344.8,533.6 343.8,536.2 343.7,536.5 345.0,535.3 346.8,534.6 347.5,535.3 347.8,537.9 349.0,538.8 348.8,540.5 349.0,543.1 348.8,544.0 350.0,543.6 351.5,542.9 352.0,541.4 351.8,539.1 351.0,537.0 350.0,534.8 351.5,533.0 352.3,531.8 353.2,530.4 354.5,528.7 356.0,529.6 357.9,527.7 359.9,524.9 360.9,522.3 362.4,519.7 362.9,517.1 363.7,512.8 362.9,511.4 359.9,510.2 357.7,509.0 359.4,506.7 361.4,504.1 363.4,502.4 365.4,501.0 368.4,500.8 371.4,500.3 374.3,501.5 376.8,501.0 377.3,499.8 379.1,497.0 381.8,497.2 382.6,497.7 380.3,502.4 378.8,505.0 378.1,508.4 378.5,512.8 379.0,515.4 380.8,512.8 382.3,510.2 384.3,508.1 384.1,506.4 385.5,505.3 384.5,503.2 385.8,500.6 387.3,499.8 388.8,499.1 392.2,499.8 394.2,498.0 396.2,496.3 399.2,495.4 401.2,495.8 401.7,493.7 400.7,492.0 399.2,491.6 400.7,490.3 402.2,490.8" fill="none" stroke="#000" stroke-width="1.35" stroke-linejoin="round" stroke-linecap="round"/>
<polyline points="44.4,490.8 46.4,491.1 48.9,490.3 51.9,492.2 51.9,490.3 53.9,489.4 54.7,489.2 54.4,488.5 52.9,487.7 49.4,486.8 46.4,485.1 44.4,484.2" fill="none" stroke="#000" stroke-width="1.35" stroke-linejoin="round" stroke-linecap="round"/>
<polyline points="402.2,484.2 400.2,483.3 397.2,482.8 394.2,482.5 392.2,482.8 390.2,482.5 387.3,483.1 383.3,483.3 382.3,481.1 379.3,480.7 375.3,480.9 372.4,479.9 369.4,478.5 365.4,477.8 362.4,478.1 359.4,480.0 357.4,479.7 354.5,479.5 352.5,481.1 351.5,478.6 351.0,476.4 348.5,476.4 346.0,476.0 343.5,477.4 340.6,476.2 336.6,476.2 335.6,475.7 334.6,476.0 332.6,476.0 331.6,476.7 328.6,476.9 327.6,477.6 330.6,474.7 334.6,472.1 330.6,470.7 326.6,469.1 322.7,471.2 320.7,472.1 317.7,472.4 314.7,472.9 310.7,473.3 309.3,474.7 309.8,475.9 303.8,476.0 303.3,478.1 305.3,479.5 303.3,480.7 300.8,478.5 298.8,479.9 297.3,477.6 295.6,477.6 293.4,477.3 291.9,477.9 290.9,481.6 289.7,481.6 290.4,484.2 287.9,483.7 283.9,482.8 282.9,484.5 280.4,485.1 277.0,485.6 276.0,484.7 271.5,486.4 269.5,485.6 267.0,485.1 266.5,486.4 267.0,488.5 265.0,488.5 263.0,489.4 262.6,491.6 260.1,492.9 259.1,492.0 257.6,491.6 257.7,489.7 256.6,488.5 258.1,488.9 261.6,489.2 264.0,488.0 264.0,486.3 262.1,485.7 258.6,483.8 256.1,483.3 253.1,482.8 251.1,480.7 248.6,480.5 246.2,481.6 242.2,482.5 239.2,484.5 237.7,485.9 236.7,487.7 235.7,489.7 233.7,492.0 231.7,493.9 229.3,495.4 228.3,498.0 228.3,500.6 228.8,502.0 230.3,503.2 231.4,503.1 233.2,501.5 234.2,501.2 234.7,502.4 235.2,504.1 236.0,506.7 237.7,507.6 237.5,506.4 239.2,506.4 239.7,504.1 240.0,501.9 241.7,500.6 240.7,498.7 240.5,496.0 242.2,493.7 244.2,492.5 244.7,490.3 247.1,489.7 248.4,491.1 247.6,492.9 244.7,494.4 244.7,498.0 245.7,499.4 248.1,499.4 250.6,498.9 253.1,499.8 251.6,500.0 249.6,500.6 247.1,501.0 246.7,501.9 247.1,502.7 246.2,504.1 244.7,504.5 244.2,506.7 244.4,508.1 243.2,508.6 242.7,509.5 241.7,509.0 239.7,509.3 237.4,510.4 235.7,509.5 234.2,510.2 234.1,509.1 233.2,508.8 233.4,507.4 233.8,506.2 233.6,503.9 232.7,504.8 231.4,505.3 231.3,507.6 231.8,508.6 232.0,510.2 231.2,510.9 230.3,511.2 229.3,511.2 228.1,511.9 227.5,513.6 226.8,514.5 225.8,515.2 224.9,515.5 224.8,516.8 223.5,517.6 222.3,518.1 222.0,517.6 221.4,517.6 221.7,519.4 220.3,519.2 218.6,519.7 219.0,520.9 220.8,521.8 221.3,522.7 222.1,524.4 222.0,526.6 221.7,528.5 220.3,528.5 218.3,528.4 215.8,528.0 214.2,528.9 214.5,531.0 214.7,532.7 213.9,536.5 214.6,537.0 214.5,538.1 214.5,539.6 215.8,539.3 217.0,540.0 217.7,541.4" fill="none" stroke="#000" stroke-width="1.35" stroke-linejoin="round" stroke-linecap="round"/>
<polyline points="217.4,541.7 216.8,544.0 216.3,545.2 214.9,546.2 214.1,547.4 213.6,550.9 213.4,552.6 211.9,554.9 210.4,555.6 208.9,558.7 207.4,562.2 206.9,564.8 206.4,567.4 206.4,569.1" fill="none" stroke="#000" stroke-width="1.35" stroke-linejoin="round" stroke-linecap="round"/>
<polyline points="217.6,516.9 219.3,516.4 220.3,515.9 222.3,515.7 224.7,515.0 224.2,514.0 225.0,512.4 223.6,511.7 223.3,510.9 221.8,508.4 221.3,507.1 220.3,506.7 221.5,504.1 219.8,503.8 220.3,502.2 218.3,502.2 217.8,504.1 217.3,505.8 217.8,507.6 218.3,508.8 219.8,508.6 220.3,510.2 220.3,511.4 218.7,511.4 218.8,512.4 219.3,513.3 218.0,514.0 219.3,514.3 220.3,514.7 219.1,515.0 217.6,516.9" fill="none" stroke="#000" stroke-width="1.35" stroke-linejoin="round" stroke-linecap="round"/>
<polyline points="217.3,513.3 217.1,511.0 217.3,509.1 215.8,507.9 214.9,508.8 213.4,509.8 213.6,511.2 213.2,513.3 213.9,514.3 215.4,514.0 217.3,513.3" fill="none" stroke="#000" stroke-width="1.35" stroke-linejoin="round" stroke-linecap="round"/>
<polyline points="234.2,467.7 238.2,470.3 240.2,471.2 244.7,469.8 242.2,468.1 244.2,467.4 250.1,466.0 248.1,464.6 243.2,464.3 240.2,465.3 235.2,465.5 234.2,467.7" fill="none" stroke="#000" stroke-width="1.35" stroke-linejoin="round" stroke-linecap="round"/>
<polyline points="274.5,479.9 276.0,476.4 278.5,473.8 281.9,471.7 286.9,470.7 291.4,470.3 288.9,472.1 284.4,473.8 280.9,476.4 278.9,479.0 278.0,481.2 275.0,480.7 274.5,479.9" fill="none" stroke="#000" stroke-width="1.35" stroke-linejoin="round" stroke-linecap="round"/>
<polyline points="270.0,464.8 275.0,463.7 280.9,462.5 284.9,463.6 278.9,465.1 273.0,465.3 270.0,464.8" fill="none" stroke="#000" stroke-width="1.35" stroke-linejoin="round" stroke-linecap="round"/>
<polyline points="317.7,466.0 320.7,463.7 322.7,463.4 326.6,466.0 323.7,467.7 319.7,467.7 317.7,466.0" fill="none" stroke="#000" stroke-width="1.35" stroke-linejoin="round" stroke-linecap="round"/>
<polyline points="358.4,475.5 362.4,472.9 365.4,472.4 370.4,473.3 367.4,474.7 363.4,476.4 358.4,475.5" fill="none" stroke="#000" stroke-width="1.35" stroke-linejoin="round" stroke-linecap="round"/>
<polyline points="44.5,479.9 46.4,479.9 47.4,480.5 45.4,480.9 44.5,479.9" fill="none" stroke="#000" stroke-width="1.35" stroke-linejoin="round" stroke-linecap="round"/>
<polyline points="364.4,524.0 365.9,523.2 365.4,518.8 366.9,518.8 365.7,515.4 365.6,511.9 365.0,509.7 364.6,511.9 364.4,515.4 364.2,520.6 364.4,524.0" fill="none" stroke="#000" stroke-width="1.35" stroke-linejoin="round" stroke-linecap="round"/>
<polyline points="362.4,531.8 363.7,532.0 364.1,529.9 365.7,531.0 367.9,528.7 366.9,527.5 364.4,525.1 363.9,526.6 363.8,528.7 362.4,530.1 362.4,531.8" fill="none" stroke="#000" stroke-width="1.35" stroke-linejoin="round" stroke-linecap="round"/>
<polyline points="363.8,532.0 364.4,535.3 363.4,537.4 363.3,539.8 363.2,541.9 362.4,543.1 361.4,543.4 360.6,543.8 359.2,544.0 358.2,545.7 357.4,543.8 355.5,544.3 353.5,544.8 353.5,544.0 355.0,542.2 356.5,542.1 358.4,541.7 359.4,539.6 360.9,538.8 361.9,537.0 362.4,534.8 362.7,532.4 363.8,532.0" fill="none" stroke="#000" stroke-width="1.35" stroke-linejoin="round" stroke-linecap="round"/>
<polyline points="352.5,545.2 353.5,545.0 354.3,547.4 353.5,549.5 352.7,549.5 352.3,547.1 352.5,545.2" fill="none" stroke="#000" stroke-width="1.35" stroke-linejoin="round" stroke-linecap="round"/>
<polyline points="355.0,546.0 356.5,544.3 357.2,545.2 356.0,546.0 355.0,546.9 355.0,546.0" fill="none" stroke="#000" stroke-width="1.35" stroke-linejoin="round" stroke-linecap="round"/>
<polyline points="342.7,563.9 343.5,565.6 344.4,561.3 344.0,559.9 342.8,562.2 342.7,563.9" fill="none" stroke="#000" stroke-width="1.35" stroke-linejoin="round" stroke-linecap="round"/>
<polyline points="235.6,537.7 236.7,537.6 238.8,537.4 238.3,540.2 235.7,538.6 235.6,537.7" fill="none" stroke="#000" stroke-width="1.35" stroke-linejoin="round" stroke-linecap="round"/>
<polyline points="231.6,536.2 232.8,535.8 233.0,532.7 232.4,532.2 231.4,533.0 231.6,536.2" fill="none" stroke="#000" stroke-width="1.35" stroke-linejoin="round" stroke-linecap="round"/>
<polyline points="231.8,532.0 232.6,531.7 232.7,529.2 231.8,530.3 231.8,532.0" fill="none" stroke="#000" stroke-width="1.35" stroke-linejoin="round" stroke-linecap="round"/>
<polyline points="246.7,542.6 249.4,542.8 247.1,543.1 246.7,542.6" fill="none" stroke="#000" stroke-width="1.35" stroke-linejoin="round" stroke-linecap="round"/>
<polyline points="255.4,543.6 257.7,541.9 256.1,542.6 255.4,543.6" fill="none" stroke="#000" stroke-width="1.35" stroke-linejoin="round" stroke-linecap="round"/>
<polyline points="131.9,522.8 133.9,523.0 135.9,521.4 137.8,522.8 139.2,523.2 139.0,521.4 137.8,519.4 135.4,519.7 134.4,520.6 131.9,522.8" fill="none" stroke="#000" stroke-width="1.35" stroke-linejoin="round" stroke-linecap="round"/>
<polyline points="136.4,531.5 137.3,531.0 137.6,528.4 138.3,525.8 138.8,524.4 136.8,524.4 136.1,526.6 136.1,530.1 136.4,531.5" fill="none" stroke="#000" stroke-width="1.35" stroke-linejoin="round" stroke-linecap="round"/>
<polyline points="139.0,524.2 140.3,524.0 142.3,525.4 143.3,526.3 142.1,528.9 141.3,529.2 141.3,527.5 140.3,527.5 140.4,525.4 139.0,524.2" fill="none" stroke="#000" stroke-width="1.35" stroke-linejoin="round" stroke-linecap="round"/>
<polyline points="140.3,531.5 142.8,530.6 144.8,529.6 143.3,529.9 141.3,531.0 140.3,531.5" fill="none" stroke="#000" stroke-width="1.35" stroke-linejoin="round" stroke-linecap="round"/>
<polyline points="144.0,528.7 147.3,528.7 147.6,527.5 146.3,527.5 144.3,528.0 144.0,528.7" fill="none" stroke="#000" stroke-width="1.35" stroke-linejoin="round" stroke-linecap="round"/>
<polyline points="107.0,498.0 110.0,495.4 113.0,495.4 110.5,496.8 108.0,498.4 107.0,498.0" fill="none" stroke="#000" stroke-width="1.35" stroke-linejoin="round" stroke-linecap="round"/>
<polyline points="99.1,491.1 102.1,488.5 105.0,488.5 103.6,490.8 101.1,491.5 99.1,491.1" fill="none" stroke="#000" stroke-width="1.35" stroke-linejoin="round" stroke-linecap="round"/>
<polyline points="126.9,516.2 127.4,513.6 125.9,510.5 125.2,511.9 126.9,516.2" fill="none" stroke="#000" stroke-width="1.35" stroke-linejoin="round" stroke-linecap="round"/>
<polyline points="326.6,514.3 328.6,512.8 331.1,510.2 332.1,507.2 331.6,509.3 329.6,512.8 327.1,514.5" fill="none" stroke="#000" stroke-width="1.35" stroke-linejoin="round" stroke-linecap="round"/>
<polyline points="296.8,523.2 298.3,522.8 299.8,523.3 301.8,522.7 301.8,523.7 299.3,524.4 296.8,523.2" fill="none" stroke="#000" stroke-width="1.35" stroke-linejoin="round" stroke-linecap="round"/>
<polyline points="111.0,469.5 114.0,468.2 116.0,468.9 113.0,470.0 111.0,469.5" fill="none" stroke="#000" stroke-width="1.35" stroke-linejoin="round" stroke-linecap="round"/>
<polyline points="112.0,468.1 114.0,467.2 115.0,467.7 113.0,468.4 112.0,468.1" fill="none" stroke="#000" stroke-width="1.35" stroke-linejoin="round" stroke-linecap="round"/>
<polyline points="120.9,468.6 123.9,467.2 122.9,466.0 120.0,467.2 120.9,468.6" fill="none" stroke="#000" stroke-width="1.35" stroke-linejoin="round" stroke-linecap="round"/>
<polyline points="126.9,468.6 128.9,467.7 127.4,467.0 125.9,467.9 126.9,468.6" fill="none" stroke="#000" stroke-width="1.35" stroke-linejoin="round" stroke-linecap="round"/>
<polyline points="118.0,469.8 120.0,469.3 119.0,468.8 117.0,469.3 118.0,469.8" fill="none" stroke="#000" stroke-width="1.35" stroke-linejoin="round" stroke-linecap="round"/>
<polyline points="143.8,476.9 146.8,476.4 147.3,477.6 144.8,477.6 143.8,476.9" fill="none" stroke="#000" stroke-width="1.35" stroke-linejoin="round" stroke-linecap="round"/>
<polyline points="145.8,486.4 147.8,486.1 147.3,487.3 145.8,486.4" fill="none" stroke="#000" stroke-width="1.35" stroke-linejoin="round" stroke-linecap="round"/>
<polyline points="140.8,494.9 142.8,494.8 141.8,495.8 140.8,494.9" fill="none" stroke="#000" stroke-width="1.35" stroke-linejoin="round" stroke-linecap="round"/>
<polyline points="122.9,471.2 124.9,470.5 125.9,471.4 123.9,471.9 122.9,471.2" fill="none" stroke="#000" stroke-width="1.35" stroke-linejoin="round" stroke-linecap="round"/>
<polyline points="103.1,476.4 105.0,477.6 106.0,476.9" fill="none" stroke="#000" stroke-width="1.35" stroke-linejoin="round" stroke-linecap="round"/>
<polyline points="112.0,481.6 116.0,480.4 119.0,481.1" fill="none" stroke="#000" stroke-width="1.35" stroke-linejoin="round" stroke-linecap="round"/>
<polyline points="139.8,479.0 143.8,479.9 146.8,479.3" fill="none" stroke="#000" stroke-width="1.35" stroke-linejoin="round" stroke-linecap="round"/>
<polyline points="195.0,536.9 196.3,536.7" fill="none" stroke="#000" stroke-width="1.35" stroke-linejoin="round" stroke-linecap="round"/>
<polyline points="197.7,538.2 198.3,538.2" fill="none" stroke="#000" stroke-width="1.35" stroke-linejoin="round" stroke-linecap="round"/>
<polyline points="49.6,513.5 50.4,513.3" fill="none" stroke="#000" stroke-width="1.35" stroke-linejoin="round" stroke-linecap="round"/>
<polyline points="60.4,509.2 58.7,510.1" fill="none" stroke="#000" stroke-width="1.35" stroke-linejoin="round" stroke-linecap="round"/>
<polyline points="57.4,510.8 55.8,511.6" fill="none" stroke="#000" stroke-width="1.35" stroke-linejoin="round" stroke-linecap="round"/>
<polyline points="54.4,512.3 52.8,512.9" fill="none" stroke="#000" stroke-width="1.35" stroke-linejoin="round" stroke-linecap="round"/>
<polyline points="368.4,527.9 369.4,527.0" fill="none" stroke="#000" stroke-width="1.35" stroke-linejoin="round" stroke-linecap="round"/>
<polyline points="370.1,526.2 370.9,525.3" fill="none" stroke="#000" stroke-width="1.35" stroke-linejoin="round" stroke-linecap="round"/>
<polyline points="371.6,524.5 372.4,523.6" fill="none" stroke="#000" stroke-width="1.35" stroke-linejoin="round" stroke-linecap="round"/>
<polyline points="373.1,523.0 373.9,522.2" fill="none" stroke="#000" stroke-width="1.35" stroke-linejoin="round" stroke-linecap="round"/>
<polyline points="374.6,521.5 375.4,520.5" fill="none" stroke="#000" stroke-width="1.35" stroke-linejoin="round" stroke-linecap="round"/>
<polyline points="376.0,519.6 376.5,518.8" fill="none" stroke="#000" stroke-width="1.35" stroke-linejoin="round" stroke-linecap="round"/>
<polyline points="377.0,518.1 377.5,517.2" fill="none" stroke="#000" stroke-width="1.35" stroke-linejoin="round" stroke-linecap="round"/>
<polyline points="377.9,516.6 378.4,516.0" fill="none" stroke="#000" stroke-width="1.35" stroke-linejoin="round" stroke-linecap="round"/>
<polygon points="99.1,491.1 102.1,488.5 105.0,488.5 103.6,490.8 101.1,491.5 99.1,491.1" fill="#000" stroke="#000" stroke-width="1"/>
<polygon points="107.0,498.0 110.0,495.4 113.0,495.4 110.5,496.8 108.0,498.4 107.0,498.0" fill="#000" stroke="#000" stroke-width="1"/>
<polygon points="126.9,516.2 127.4,513.6 125.9,510.5 125.2,511.9 126.9,516.2" fill="#000" stroke="#000" stroke-width="1"/>
<polygon points="112.5,501.9 115.5,500.6 117.5,501.2 115.0,502.2 112.5,501.9" fill="#000" stroke="#000" stroke-width="1"/>
<polygon points="121.1,504.6 121.7,503.1 122.3,503.9 121.1,504.6" fill="#000" stroke="#000" stroke-width="1"/>
</g>
<path d="M44.5,447.8H402.3V569.2H44.5Z M48.3,451.4V565.5H398.6V451.4Z" fill="#fff" fill-rule="evenodd"/>
<rect x="44.50" y="565.5" width="29.75" height="3.70" fill="#000"/>
<rect x="74.25" y="447.8" width="29.81" height="3.60" fill="#000"/>
<rect x="104.06" y="565.5" width="29.81" height="3.70" fill="#000"/>
<rect x="133.87" y="447.8" width="29.81" height="3.60" fill="#000"/>
<rect x="163.68" y="565.5" width="29.81" height="3.70" fill="#000"/>
<rect x="193.49" y="447.8" width="29.81" height="3.60" fill="#000"/>
<rect x="223.30" y="565.5" width="29.81" height="3.70" fill="#000"/>
<rect x="253.11" y="447.8" width="29.81" height="3.60" fill="#000"/>
<rect x="282.92" y="565.5" width="29.81" height="3.70" fill="#000"/>
<rect x="312.73" y="447.8" width="29.81" height="3.60" fill="#000"/>
<rect x="342.54" y="565.5" width="29.81" height="3.70" fill="#000"/>
<rect x="372.36" y="447.8" width="29.81" height="3.60" fill="#000"/>
<rect x="398.6" y="447.80" width="3.70" height="25.99" fill="#000"/>
<rect x="44.5" y="473.79" width="3.80" height="25.99" fill="#000"/>
<rect x="398.6" y="499.78" width="3.70" height="25.99" fill="#000"/>
<rect x="44.5" y="525.77" width="3.80" height="25.99" fill="#000"/>
<rect x="398.6" y="551.76" width="3.70" height="8.66" fill="#000"/>
<rect x="44.5" y="560.43" width="3.80" height="8.66" fill="#000"/>
<rect x="44.5" y="447.8" width="357.80" height="121.40" fill="none" stroke="#000" stroke-width="0.9"/>
<rect x="48.3" y="451.4" width="350.30" height="114.10" fill="none" stroke="#000" stroke-width="0.9"/>
<line x1="44.5" y1="447.8" x2="48.3" y2="451.4" stroke="#000" stroke-width="0.8"/>
<line x1="402.3" y1="569.2" x2="398.6" y2="565.5" stroke="#000" stroke-width="0.8"/>
<line x1="402.3" y1="447.8" x2="398.6" y2="451.4" stroke="#000" stroke-width="0.8"/>
<line x1="44.5" y1="569.2" x2="48.3" y2="565.5" stroke="#000" stroke-width="0.8"/>
<text x="20.2" y="433" font-size="17" font-weight="bold" font-style="normal" text-anchor="start" fill="#000">(c)</text>
<text x="104" y="438.6" font-size="14.85" font-weight="bold" font-style="normal" text-anchor="start" fill="#000">DJF Temperature Trends (1988-2010)</text>
<text x="39.4" y="453.8" font-size="14" text-anchor="end">90<tspan font-size="10.5" dy="-8">o</tspan><tspan dy="8">N</tspan></text>
<text x="39.4" y="506.4" font-size="14" text-anchor="end">60<tspan font-size="10.5" dy="-8">o</tspan><tspan dy="8">N</tspan></text>
<text x="39.4" y="558.5" font-size="14" text-anchor="end">30<tspan font-size="10.5" dy="-8">o</tspan><tspan dy="8">N</tspan></text>
<text x="44.9" y="584.2" font-size="14" text-anchor="middle">180<tspan font-size="10.5" dy="-8">o</tspan><tspan dy="8">W</tspan></text>
<text x="104.6" y="584.2" font-size="14" text-anchor="middle">120<tspan font-size="10.5" dy="-8">o</tspan><tspan dy="8">W</tspan></text>
<text x="164.2" y="584.2" font-size="14" text-anchor="middle">60<tspan font-size="10.5" dy="-8">o</tspan><tspan dy="8">W</tspan></text>
<text x="223.8" y="584.2" font-size="14" text-anchor="middle">0<tspan font-size="10.5" dy="-8">o</tspan><tspan dy="8"></tspan></text>
<text x="283.4" y="584.2" font-size="14" text-anchor="middle">60<tspan font-size="10.5" dy="-8">o</tspan><tspan dy="8">E</tspan></text>
<text x="343.0" y="584.2" font-size="14" text-anchor="middle">120<tspan font-size="10.5" dy="-8">o</tspan><tspan dy="8">E</tspan></text>
<line x1="403" y1="572.4" x2="406" y2="572.4" stroke="#777" stroke-width="0.8"/>
<text x="222.6" y="601.8" font-size="16.5" font-weight="bold" font-style="italic" text-anchor="middle" fill="#000">[°C per 10 years]</text>
<rect x="55.40" y="609.3" width="13.84" height="16.6" fill="rgb(0,0,255)"/>
<rect x="69.24" y="609.3" width="16.94" height="16.6" fill="rgb(28,28,255)"/>
<rect x="86.18" y="609.3" width="16.94" height="16.6" fill="rgb(57,57,255)"/>
<rect x="103.12" y="609.3" width="16.94" height="16.6" fill="rgb(85,85,255)"/>
<rect x="120.06" y="609.3" width="16.94" height="16.6" fill="rgb(113,113,255)"/>
<rect x="137.00" y="609.3" width="16.94" height="16.6" fill="rgb(142,142,255)"/>
<rect x="153.94" y="609.3" width="16.94" height="16.6" fill="rgb(170,170,255)"/>
<rect x="170.88" y="609.3" width="16.94" height="16.6" fill="rgb(198,198,255)"/>
<rect x="187.82" y="609.3" width="16.94" height="16.6" fill="rgb(227,227,255)"/>
<rect x="238.64" y="609.3" width="16.94" height="16.6" fill="rgb(255,227,227)"/>
<rect x="255.58" y="609.3" width="16.94" height="16.6" fill="rgb(255,198,198)"/>
<rect x="272.52" y="609.3" width="16.94" height="16.6" fill="rgb(255,170,170)"/>
<rect x="289.46" y="609.3" width="16.94" height="16.6" fill="rgb(255,142,142)"/>
<rect x="306.40" y="609.3" width="16.94" height="16.6" fill="rgb(255,113,113)"/>
<rect x="323.34" y="609.3" width="16.94" height="16.6" fill="rgb(255,85,85)"/>
<rect x="340.28" y="609.3" width="16.94" height="16.6" fill="rgb(255,57,57)"/>
<rect x="357.22" y="609.3" width="16.94" height="16.6" fill="rgb(255,28,28)"/>
<rect x="374.16" y="609.3" width="16.84" height="16.6" fill="rgb(255,0,0)"/>
<text x="52.5" y="642" font-size="14" font-weight="normal" font-style="normal" text-anchor="middle" fill="#000">-1</text>
<text x="224" y="641.6" font-size="14" font-weight="normal" font-style="normal" text-anchor="middle" fill="#000">0</text>
<text x="391.6" y="643.3" font-size="14" font-weight="normal" font-style="normal" text-anchor="middle" fill="#000">1</text>
</svg>
</body></html>
